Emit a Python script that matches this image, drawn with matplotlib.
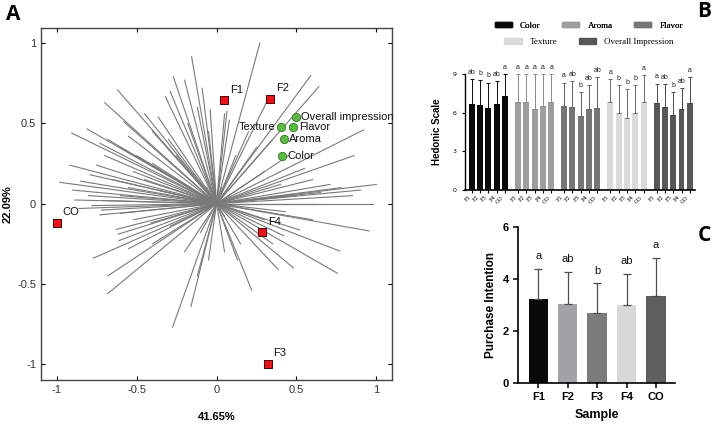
import numpy as np
import matplotlib.pyplot as plt
from matplotlib.patches import Patch

# Panel A : PCA biplot
samples = ["F1", "F2", "F3", "F4", "CO"]
sample_x = [0.048, 0.335, 0.319, 0.287, -1.0]
sample_y = [0.645, 0.655, -0.998, -0.178, -0.12]

attributes = ["Overall impression", "Texture", "Flavor", "Aroma", "Color"]
attr_x = [0.496, 0.406, 0.481, 0.42, 0.41]
attr_y = [0.543, 0.478, 0.478, 0.404, 0.298]

# consumer vectors (end points)
cons_x = [0.27, 0.59, 0.64, 0.92, 0.86, 1.00, 0.90, 0.71, 0.65, 0.32, 0.065, 0.05, 0.08, 0.20, 0.35,
          0.45, 0.55, 0.60, 0.30, 0.40, 0.78, 0.85, 0.25, 0.12, 0.50,
          -0.156, -0.27, -0.20, -0.09, -0.62, -0.70, -0.32, -0.29, -0.04, -0.58, -0.81, -0.906, -0.365,
          -0.45, -0.73, -0.917, -0.75, -0.98, -0.90, -0.886, -0.71, -0.79, -0.70, -0.55, -0.60, -0.50,
          -0.65, -0.55, -0.40, -0.30, -0.18, -0.12, -0.05, -0.45, -0.60, -0.80, -0.35, -0.25, -0.52,
          -0.68, -0.85, -0.40,
          -0.78, -0.73, -0.625, -0.615, -0.77, -0.68, -0.68, -0.275, -0.16, -0.10, -0.52, -0.41, -0.29,
          -0.72, -0.61, -0.55, -0.40, -0.86, -0.60, -0.05, -0.12, -0.20,
          0.98, 0.954, 0.77, 0.756, 0.48, 0.385, 0.22, 0.13, 0.52, 0.43, 0.42, 0.70, 0.62, 0.35, 0.15,
          0.05, 0.60, 0.30,
          0.08, -0.08, -0.10, 0.05, -0.06, 0.10, -0.12, 0.03]
cons_y = [1.00, 0.80, 0.73, 0.46, 0.30, 0.12, 0.085, 0.12, 0.07, 0.647, 0.575, 0.56, 0.52, 0.45, 0.40,
          0.30, 0.22, 0.15, 0.20, 0.12, 0.10, 0.05, 0.35, 0.30, 0.05,
          0.917, 0.79, 0.77, 0.72, 0.71, 0.63, 0.667, 0.70, 0.585, 0.51, 0.466, 0.44, 0.54,
          0.56, 0.377, 0.24, 0.24, 0.133, 0.085, 0.023, 0.02, 0.18, 0.30, 0.42, 0.35, 0.30,
          0.15, 0.10, 0.25, 0.40, 0.50, 0.60, 0.45, 0.15, 0.05, 0.05, 0.08, 0.30, 0.20,
          0.40, 0.14, 0.45,
          -0.012, -0.07, -0.16, -0.19, -0.34, -0.45, -0.56, -0.77, -0.64, -0.18, -0.10, -0.12, -0.14,
          -0.04, -0.23, -0.28, -0.25, -0.03, -0.06, -0.35, -0.45, -0.30,
          0.0, -0.17, -0.295, -0.434, -0.40, -0.41, -0.54, -0.35, -0.164, -0.05, -0.20, 0.0, 0.0, -0.25, -0.25,
          -0.30, -0.10, -0.10,
          0.05, 0.06, -0.03, -0.08, 0.10, -0.02, 0.02, 0.10]

# Panel B : hedonic scale
groups = ["Color", "Aroma", "Flavor", "Texture", "Overall Impression"]
group_colors = ["#0a0a0a", "#9e9e9e", "#767676", "#d9d9d9", "#575757"]
err_colors = ["#0a0a0a", "#8a8a8a", "#606060", "#6a6a6a", "#454545"]
hedonic = [[6.67, 6.59, 6.39, 6.67, 7.29],
           [6.83, 6.83, 6.26, 6.52, 6.83],
           [6.52, 6.47, 5.77, 6.26, 6.39],
           [6.83, 6.00, 5.56, 5.95, 6.83],
           [6.72, 6.41, 5.79, 6.26, 6.72]]
hedonic_top = [[8.59, 8.53, 8.33, 8.43, 9.0],
               [9.0, 9.0, 9.0, 9.0, 9.0],
               [8.33, 8.46, 7.6, 8.15, 8.74],
               [8.61, 8.12, 7.81, 8.12, 8.92],
               [8.25, 8.2, 7.6, 7.89, 8.74]]
hedonic_letters = [["ab", "b", "b", "ab", "a"],
                   ["a", "a", "a", "a", "a"],
                   ["a", "ab", "b", "ab", "ab"],
                   ["a", "b", "b", "b", "a"],
                   ["a", "ab", "b", "ab", "a"]]

# Panel C : purchase intention
purchase = [3.23, 3.04, 2.69, 3.0, 3.32]
purchase_top = [4.37, 4.27, 3.82, 4.19, 4.81]
purchase_letters = ["a", "ab", "b", "ab", "a"]
purchase_colors = ["#0a0a0a", "#a3a3a6", "#7b7b7b", "#d8d8d8", "#5f5f5f"]

fig = plt.figure(figsize=(7.2, 4.28), dpi=100)
sans = "Liberation Sans"

# ---------------- A ----------------
ax = fig.add_axes([0.057, 0.112, 0.488, 0.822])
for x, y in zip(cons_x, cons_y):
    ax.plot([0, x], [0, y], color="#7a7a7a", lw=0.8, zorder=1)
ax.scatter(sample_x, sample_y, marker="s", s=38, facecolor="#e8141b", edgecolor="#4a0000",
           lw=0.7, zorder=3)
for name, x, y in zip(samples, sample_x, sample_y):
    ax.annotate(name, (x, y), xytext=(4, 4), textcoords="offset points", fontsize=8,
                family=sans, ha="left", va="bottom", color="#111")
ax.scatter(attr_x, attr_y, marker="o", s=36, facecolor="#5db845", edgecolor="#2f7d22",
           lw=0.6, zorder=3)
for name, x, y in zip(attributes, attr_x, attr_y):
    if name == "Texture":
        ax.annotate(name, (x, y), xytext=(-4, 0), textcoords="offset points", fontsize=8,
                    family=sans, ha="right", va="center", color="#111")
    else:
        ax.annotate(name, (x, y), xytext=(4, 0), textcoords="offset points", fontsize=8,
                    family=sans, ha="left", va="center", color="#111")
ax.set_xlim(-1.098, 1.1)
ax.set_ylim(-1.1, 1.094)
ax.set_xticks([-1, -0.5, 0, 0.5, 1])
ax.set_xticklabels(["-1", "-0.5", "0", "0.5", "1"])
ax.set_yticks([-1, -0.5, 0, 0.5, 1])
ax.set_yticklabels(["-1", "-0.5", "0", "0.5", "1"])
ax.tick_params(direction="in", top=True, right=True, length=3, labelsize=8,
               labelcolor="#333", labelfontfamily=sans)
for s in ax.spines.values():
    s.set_color("#444")
    s.set_linewidth(1.0)
ax.set_xlabel("41.65%", fontsize=8, fontweight="bold", family=sans, labelpad=12)
ax.set_ylabel("22.09%", fontsize=8, fontweight="bold", family=sans, labelpad=3)

# ---------------- B ----------------
bx = fig.add_axes([0.646, 0.556, 0.319, 0.271])
base = np.arange(5) * 5.56
ticks, ticklabels = [], []
for g in range(5):
    pos = base[g] + np.arange(5)
    bx.bar(pos, hedonic[g], width=0.72, color=group_colors[g], zorder=2)
    up = np.array(hedonic_top[g]) - np.array(hedonic[g])
    bx.errorbar(pos, hedonic[g], yerr=[np.zeros(5), up], fmt="none", ecolor=err_colors[g],
                elinewidth=0.7, capsize=1.5, capthick=0.7, zorder=3)
    for p, t, lab in zip(pos, hedonic_top[g], hedonic_letters[g]):
        bx.text(p, t + 0.25, lab, ha="center", va="bottom", fontsize=5, family=sans, color="#222")
    ticks += list(pos)
    ticklabels += samples
bx.set_xlim(-0.8, base[-1] + 4.6)
bx.set_ylim(0, 9)
bx.set_yticks([0, 3, 6, 9])
bx.set_xticks(ticks)
bx.set_xticklabels(ticklabels, rotation=45, ha="right", fontsize=4.5, family="Liberation Serif")
bx.tick_params(axis="y", labelsize=4.5, length=2.5, width=0.8)
bx.tick_params(axis="x", length=2.5, width=0.8, pad=1)
bx.spines["top"].set_visible(False)
bx.spines["right"].set_visible(False)
bx.spines["left"].set_linewidth(1.0)
bx.spines["bottom"].set_linewidth(1.2)
bx.set_ylabel("Hedonic Scale", fontsize=7, fontweight="bold", family=sans, labelpad=8)

handles = [Patch(color=c) for c in group_colors]
serif = {"family": "Liberation Serif", "size": 6.5}
leg1 = fig.legend(handles[:3], groups[:3], loc="center", bbox_to_anchor=(0.818, 0.94), ncol=3,
                  frameon=False, prop=serif, handlelength=1.9, handleheight=0.6,
                  columnspacing=2.4, handletextpad=0.9)
fig.add_artist(leg1)
fig.legend(handles[3:], groups[3:], loc="center", bbox_to_anchor=(0.818, 0.902), ncol=2,
           frameon=False, prop=serif, handlelength=1.9, handleheight=0.6,
           columnspacing=2.4, handletextpad=0.9)

# ---------------- C ----------------
cx = fig.add_axes([0.72, 0.106, 0.2175, 0.364])
xc = np.arange(5)
cx.bar(xc, purchase, width=0.66, color=purchase_colors, zorder=2)
up = np.array(purchase_top) - np.array(purchase)
cx.errorbar(xc, purchase, yerr=[np.zeros(5), up], fmt="none", ecolor="#4d4d4d",
            elinewidth=0.9, capsize=3, capthick=0.9, zorder=3)
for p, t, lab in zip(xc, purchase_top, purchase_letters):
    cx.text(p, t + 0.3, lab, ha="center", va="bottom", fontsize=8, family=sans, color="#111")
cx.set_xlim(-0.68, 4.65)
cx.set_ylim(0, 6)
cx.set_yticks([0, 2, 4, 6])
cx.set_xticks(xc)
cx.set_xticklabels(samples)
cx.tick_params(length=3.5, width=1.1, labelsize=8)
for lab in cx.get_xticklabels() + cx.get_yticklabels():
    lab.set_fontweight("bold")
    lab.set_family(sans)
cx.spines["top"].set_visible(False)
cx.spines["right"].set_visible(False)
cx.spines["left"].set_linewidth(1.2)
cx.spines["bottom"].set_linewidth(1.2)
cx.set_ylabel("Purchase Intention", fontsize=8.5, fontweight="bold", family=sans)
cx.set_xlabel("Sample", fontsize=9, fontweight="bold", family=sans, labelpad=5)

# panel letters
fig.text(0.008, 0.965, "A", fontsize=15, fontweight="bold", family="Open Sans", va="center")
fig.text(0.978, 0.972, "B", fontsize=15, fontweight="bold", family="Open Sans", va="center", ha="center")
fig.text(0.978, 0.45, "C", fontsize=15, fontweight="bold", family="Open Sans", va="center", ha="center")

fig.savefig("out.png", dpi=100)
